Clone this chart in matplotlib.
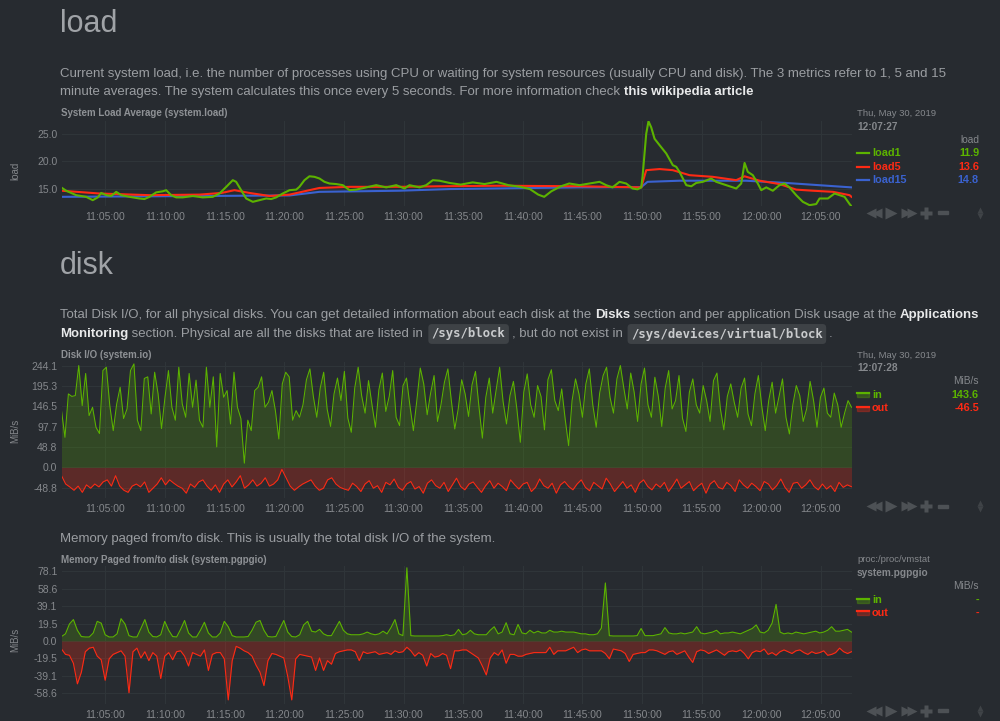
import numpy as np
import matplotlib
matplotlib.use("Agg")
import matplotlib.pyplot as plt
from matplotlib.transforms import Affine2D
from matplotlib.lines import Line2D
from matplotlib.patches import Rectangle

# ---- data (time = minutes after 11:00:00) ----
t_start, t_end = 1.31, 67.58
tick_minutes = [5, 10, 15, 20, 25, 30, 35, 40, 45, 50, 55, 60, 65]
tick_labels = ['11:05:00', '11:10:00', '11:15:00', '11:20:00', '11:25:00', '11:30:00',
               '11:35:00', '11:40:00', '11:45:00', '11:50:00', '11:55:00', '12:00:00', '12:05:00']

load1_t = [1.28, 1.70, 2.54, 3.38, 3.93, 4.35, 4.64, 5.06, 5.48, 5.90, 6.32, 7.01, 7.85, 8.27,
           8.69, 9.25, 9.81, 10.09, 10.51, 10.93, 11.48, 12.32, 13.16, 14.0, 14.56, 15.13, 15.68,
           15.96, 16.38, 16.80, 17.36, 17.92, 18.48, 18.90, 19.32, 19.87, 20.44, 21.0, 21.27, 21.69,
           22.11, 22.53, 22.95, 23.37, 23.79, 24.35, 24.91, 25.47, 26.03, 26.87, 27.71, 28.55,
           29.39, 30.08, 30.50, 31.34, 31.9, 32.46, 33.02, 33.86, 34.8, 35.8, 36.8, 37.8, 38.8,
           39.8, 40.6, 41.3, 41.8, 42.4, 43.2, 43.9, 44.77, 45.60, 46.44, 47.0, 47.53, 48.12,
           48.68, 49.21, 49.63, 49.94, 50.05, 50.36, 50.55, 50.78, 51.06, 51.48, 52.04, 52.59,
           52.88, 53.15, 53.72, 54.14, 54.55, 55.11, 55.81, 56.23, 57.07, 57.91, 58.33, 58.61,
           58.88, 59.30, 59.72, 60.01, 60.43, 60.98, 61.54, 61.96, 62.38, 62.94, 63.50, 64.06,
           64.62, 64.90, 65.60, 66.16, 66.58, 67.0, 67.42, 67.58]
load1_v = [15.3, 14.7, 13.9, 13.6, 13.0, 13.5, 14.3, 13.9, 13.75, 14.5, 13.9, 13.6, 13.3, 13.2,
           13.6, 14.4, 14.6, 14.8, 13.9, 13.5, 13.5, 13.75, 13.5, 13.6, 14.2, 15.4, 16.6,
           16.3, 14.8, 13.3, 12.7, 13.0, 13.3, 13.2, 13.5, 14.2, 14.8, 14.9, 15.4, 16.6,
           17.3, 17.2, 16.9, 16.3, 16.0, 15.9, 15.7, 14.8, 14.9, 15.3, 15.7, 15.3,
           15.7, 15.1, 15.7, 15.3, 15.7, 16.6, 16.5, 16.1, 15.8, 16.2, 15.9, 16.3, 15.7,
           15.4, 15.0, 14.0, 13.6, 14.6, 15.5, 16.0, 15.7, 16.0, 16.3, 15.7, 15.3, 16.3,
           16.0, 15.1, 14.95, 15.3, 17.2, 24.95, 27.2, 26.1, 24.05, 22.9, 21.4, 19.3,
           19.0, 18.1, 15.7, 15.5, 16.1, 16.3, 16.9, 16.3, 15.7, 15.1, 16.0, 19.7,
           18.1, 17.5, 16.0, 14.8, 15.3, 14.7, 15.7, 16.0, 15.3, 13.9, 12.7, 12.1,
           12.3, 13.3, 13.3, 14.2, 13.9, 13.6, 12.3, 11.9]

load5_t = [1.31, 4.5, 8.69, 12.89, 14.73, 15.82, 17.08, 18.76, 20.44, 21.69, 22.95, 25.47, 29.66,
           33.02, 38.05, 44.77, 49.94, 50.36, 51.48, 52.59, 53.99, 55.95, 57.91, 58.61, 59.87,
           61.54, 62.94, 64.34, 66.02, 67.42, 67.58]
load5_v = [14.7, 14.2, 13.9, 14.0, 14.3, 14.8, 14.3, 13.75, 14.0, 14.6, 15.2, 15.4, 15.4,
           15.5, 15.6, 15.5, 15.3, 18.4, 18.6, 18.4, 17.5, 17.2, 16.6, 17.3, 16.5,
           15.9, 14.9, 14.7, 14.5, 13.9, 13.6]

load15_t = [1.31, 12.89, 20.44, 22.95, 29.66, 33.86, 44.77, 49.94, 50.47, 53.15, 58.74, 62.1, 67.58]
load15_v = [13.6, 13.75, 13.85, 14.5, 14.7, 15.0, 15.3, 15.35, 16.3, 16.5, 16.5, 16.1, 15.3]

disk_in = [136, 72, 176, 170, 172, 244, 148, 225, 124, 144, 96, 81, 232, 240, 148, 88, 152, 192,
           117, 140, 232, 248, 113, 88, 213, 217, 128, 228, 176, 93, 168, 232, 144, 113, 240, 152,
           120, 225, 144, 209, 113, 96, 240, 144, 217, 49, 225, 168, 184, 104, 228, 144, 117, 10,
           113, 88, 184, 192, 217, 144, 156, 184, 136, 68, 200, 228, 217, 113, 136, 120,
           150, 210, 236, 170, 120, 190, 228, 140, 98, 176, 214, 160, 230, 118, 84, 190, 240, 172,
           130, 208, 150, 96, 186, 226, 134, 170, 232, 120, 100, 196, 214, 148, 88, 160, 238, 200,
           126, 178, 220, 110, 150, 204, 236, 160, 92, 140, 210, 176, 122, 198, 230, 146, 70, 168,
           214, 130, 186, 240, 158, 104, 172, 206, 140, 60, 180, 224, 150, 120, 196, 170, 90, 210,
           234, 160, 136, 188, 116, 52, 160, 212, 176, 120, 200, 236, 150, 96, 178, 220, 240, 168,
           130, 212, 244, 190, 140, 226, 180, 110, 200, 238, 150, 120, 216, 170, 98, 190, 232, 140,
           160, 220, 118, 86, 180, 212, 150, 130, 196, 160, 110, 208, 226, 140, 90, 170, 200, 156,
           120, 190, 214, 128, 100, 176, 220, 146, 88, 160, 204, 130, 170, 212, 120, 80, 150, 196,
           172, 110, 140, 206, 160, 96, 168, 190, 130, 120, 178, 150, 96, 130, 160, 144]
disk_out = [-20, -40, -47, -55, -45, -60, -42, -50, -40, -47, -35, -30, -45, -20, -45, -55, -60,
            -45, -40, -47, -35, -60, -50, -40, -25, -42, -30, -38, -45, -50, -62, -40, -48, -35,
            -30, -45, -55, -42, -60, -40, -30, -47, -35, -20, -50, -42, -30, -45, -38, -25, -45,
            -40, -30, -5, -25, -45, -55, -47, -40, -35, -30, -45, -55, -50, -30, -25, -40, -48,
            -52, -55,
            -38, -46, -58, -40, -32, -50, -44, -60, -36, -42, -28, -48, -55, -40, -34, -52, -46,
            -62, -38, -30, -44, -50, -36, -58, -42, -26, -46, -54, -40, -35, -48, -60, -44, -32,
            -50, -38, -46, -56, -30, -42, -52, -40, -36, -58, -48, -28, -44, -50, -38, -62, -42,
            -34, -46, -54, -40, -30, -48, -56, -36, -44, -52, -26, -40, -58, -46, -34, -50, -42,
            -60, -38, -30, -46, -54, -40, -48, -36, -58, -44, -28, -50, -42, -34, -56, -46, -38,
            -62, -40, -32, -48, -52, -36, -44, -58, -30, -42, -50, -38, -46, -56, -34, -40, -54,
            -44, -28, -48, -60, -38, -36, -50, -42, -30, -46, -54, -40, -52, -44, -58, -36, -48,
            -42, -46.5]

pg_in = [5, 8, 19, 24, 12, 5, 4.5, 4.5, 9, 22,
         20, 7, 4.5, 4.5, 8, 25, 19, 6, 4.5, 4.5,
         14, 24, 10, 5, 4.5, 7, 22, 12, 5, 4.5,
         13, 23, 9, 4.5, 4.5, 12, 21, 9, 4.5, 4.5,
         9, 22, 16, 6, 4.5, 4.5, 4.5, 5, 12, 21,
         23, 12, 5, 4.5, 5, 14, 23, 10, 5, 4.5,
         7, 18, 22, 11, 10, 13, 8, 6, 6, 14,
         22, 12, 8, 7, 7, 7, 8, 10, 8, 7,
         8, 11, 8, 15, 24, 8, 6, 82, 6, 5.6,
         5.6, 5.6, 5.6, 5.6, 5.6, 5.6, 6, 7, 6, 7,
         13, 7, 8, 12, 8, 7, 7, 7, 12, 16,
         8, 10, 20.5, 8, 7, 18.6, 9, 8, 12, 9,
         11, 9, 9, 12, 10, 10, 11, 10, 10, 10,
         9, 8, 8, 7, 7, 8, 14.5, 65, 6, 5.6,
         5.6, 5.6, 5.6, 5.6, 5.6, 6, 14, 6, 6, 6,
         7, 8, 15, 9, 8, 8, 9, 8, 9, 10,
         16, 9, 8, 9, 10, 12, 8, 9, 9, 10,
         9, 8, 10, 12, 14, 18, 10, 9, 12, 20,
         41, 10, 8, 9, 8, 10, 9, 8, 9, 10,
         11, 9, 10, 12, 16, 11, 11, 12, 13, 10]
pg_out = [-9, -15, -16, -25, -48, -35, -12, -8, -7, -17,
          -21, -44, -20, -15, -13, -11, -17, -58, -12, -8,
          -19, -12, -22, -13, -17, -42, -17, -13, -21, -12,
          -11, -17, -28, -13, -15, -17, -10, -33, -15, -13,
          -13, -20, -66, -22, -6, -8, -11, -13, -17, -27,
          -35, -50, -22, -14, -15, -17, -19, -40, -66, -20,
          -15, -16, -17, -18, -33, -19, -33, -22, -26, -14,
          -12, -11, -10, -10, -12, -22, -12, -14, -13, -12,
          -15, -14, -13, -15, -11, -13, -12, -7, -11, -17,
          -13, -16, -28, -14, -18, -17, -14, -16, -31, -11,
          -11, -10, -10, -13, -16, -19, -28, -38, -19, -13,
          -16, -10, -25, -15, -15, -17, -17, -15, -14, -13,
          -13, -13, -13, -7, -15, -11, -11, -11, -9, -7,
          -13, -10, -9, -11, -11, -11, -11, -14, -20, -9,
          -10, -11, -14, -23, -15, -14, -13, -13, -10, -10,
          -11, -13, -15, -12, -11, -15, -13, -11, -18, -24,
          -12, -10, -11, -14, -12, -10, -13, -16, -12, -11,
          -12, -10, -14, -20, -13, -11, -12, -9, -15, -13,
          -16, -12, -10, -12, -14, -11, -10, -13, -15, -12,
          -14, -13, -11, -16, -15, -13, -8, -12, -14, -12]

load_ticks = [15.0, 20.0, 25.0]
disk_ticks = [-48.8, 0.0, 48.8, 97.7, 146.5, 195.3, 244.1]
pg_ticks = [-58.6, -39.1, -19.5, 0.0, 19.5, 39.1, 58.6, 78.1]

# ---- styling ----
W, H = 1000, 721
BG = '#272b30'
TXT = '#9b9ea2'
HEAD = '#a0a3a7'
DIM = '#85888c'
GRID = '#30363a'
CTRL = '#4d5155'
GREEN = '#5cb300'
RED = '#fe2a14'
BLUE = '#3a62d0'
SANS = 'Liberation Sans'
MONO = 'DejaVu Sans Mono'
DESC = 9.52

plt.rcParams['font.family'] = SANS

fig = plt.figure(figsize=(W / 100, H / 100), dpi=100, facecolor=BG)
PX = Affine2D().scale(1 / W, -1 / H).translate(0, 1) + fig.transFigure
renderer = fig.canvas.get_renderer()


def text_width(s, **kw):
    a = fig.text(0, 0, s + '|', **kw)
    b = fig.text(0, 0, '|', **kw)
    w = a.get_window_extent(renderer).width - b.get_window_extent(renderer).width
    a.remove()
    b.remove()
    return w


def put(x, y, s, **kw):
    kw.setdefault('color', TXT)
    kw.setdefault('va', 'center')
    return fig.text(x, y, s, transform=PX, **kw)


def rich_line(x, y, parts, size=DESC):
    for s, kind in parts:
        if kind == 'code':
            kw = dict(family=MONO, size=size - 0.7, weight='bold', color='#c9cbcd')
            w = text_width(s, **kw)
            put(x + 5, y, s, bbox=dict(boxstyle='round,pad=0.28,rounding_size=0.3',
                                       fc='#3e4246', ec='none'), **kw)
            x += w + 11
        else:
            kw = dict(size=size, color='#e8e9ea' if kind == 'b' else TXT,
                      weight='bold' if kind == 'b' else 'normal')
            put(x, y, s, **kw)
            x += text_width(s, **kw)


def make_axes(top, bottom, ylim, yticks):
    ax = fig.add_axes([61.5 / W, 1 - bottom / H, 790 / W, (bottom - top) / H])
    ax.set_facecolor(BG)
    for sp in ax.spines.values():
        sp.set_visible(False)
    ax.set_axisbelow(True)
    ax.grid(True, color=GRID, lw=0.7)
    ax.tick_params(length=0, colors=DIM, labelsize=7.5, pad=4.5)
    ax.tick_params(axis='y', pad=3)
    ax.set_xlim(t_start, t_end)
    ax.set_xticks(tick_minutes)
    ax.set_xticklabels(tick_labels)
    ax.set_ylim(*ylim)
    ax.set_yticks(yticks)
    ax.set_yticklabels([f'{v:.1f}' for v in yticks])
    return ax


def controls(y):
    for x in (871, 877):
        fig.add_artist(Line2D([x], [y], marker='<', ms=6.5, color=CTRL, mec='none', transform=PX))
    fig.add_artist(Line2D([891], [y], marker='>', ms=9, color=CTRL, mec='none', transform=PX))
    for x in (906, 912):
        fig.add_artist(Line2D([x], [y], marker='>', ms=6.5, color=CTRL, mec='none', transform=PX))
    fig.add_artist(Line2D([926], [y], marker='P', ms=8, color=CTRL, mec='none', transform=PX))
    fig.add_artist(Rectangle((938, y - 1.5), 10, 3, color=CTRL, transform=PX))
    fig.add_artist(Line2D([980], [y - 3], marker='^', ms=4.5, color='#3f4347', mec='none', transform=PX))
    fig.add_artist(Line2D([980], [y + 3], marker='v', ms=4.5, color='#3f4347', mec='none', transform=PX))


def legend_row(y, name, value, color, area=False):
    if area:
        fig.add_artist(Rectangle((857, y - 1.5), 12, 4, color=color, alpha=0.3, transform=PX))
    fig.add_artist(Line2D([857, 869], [y - 1.5 if area else y] * 2, color=color, lw=1.6, transform=PX))
    put(872, y, name, color=color, size=7.8, weight='bold')
    put(979, y, value, color=color, size=7.8, weight='bold', ha='right')


# ---- load section ----
put(60, 31.5, 'load', size=22, color=HEAD, va='baseline')
rich_line(60, 73.5, [('Current system load, i.e. the number of processes using CPU or waiting for '
                      'system resources (usually CPU and disk). The 3 metrics refer to 1, 5 and 15', 'n')])
rich_line(60, 92.5, [('minute averages. The system calculates this once every 5 seconds. '
                      'For more information check ', 'n'), ('this wikipedia article', 'b')])
put(61, 113.5, 'System Load Average (system.load)', size=7, weight='bold', color='#8e9195')

ax1 = make_axes(121, 206, (11.95, 27.25), load_ticks)
ax1.plot(load15_t, load15_v, color=BLUE, lw=1.5)
ax1.plot(load5_t, load5_v, color=RED, lw=1.5)
ax1.plot(load1_t, load1_v, color=GREEN, lw=1.5)
put(15, 171, 'load', size=7, color=DIM, rotation=90, ha='center')

put(857, 114, 'Thu, May 30, 2019', size=6.8, color=DIM)
put(857, 126.5, '12:07:27', size=7.3, color=DIM, weight='bold')
put(979, 140, 'load', size=7.3, color=DIM, ha='right')
legend_row(153.3, 'load1', '11.9', GREEN)
legend_row(166.7, 'load5', '13.6', RED)
legend_row(180, 'load15', '14.8', BLUE)
controls(212.5)

# ---- disk section ----
put(60, 273.5, 'disk', size=22, color=HEAD, va='baseline')
rich_line(60, 315, [('Total Disk I/O, for all physical disks. You can get detailed information about '
                     'each disk at the ', 'n'), ('Disks', 'b'),
                    (' section and per application Disk usage at the ', 'n'), ('Applications', 'b')])
rich_line(60, 334, [('Monitoring', 'b'), (' section. Physical are all the disks that are listed in ', 'n'),
                    ('/sys/block', 'code'), (', but do not exist in ', 'n'),
                    ('/sys/devices/virtual/block', 'code'), ('.', 'n')])
put(61, 355, 'Disk I/O (system.io)', size=7, weight='bold', color='#8e9195')

ax2 = make_axes(362, 498, (-73.5, 252.5), disk_ticks)
td = np.linspace(t_start, t_end, len(disk_in))
to = np.linspace(t_start, t_end, len(disk_out))
ax2.fill_between(td, 0, disk_in, color=GREEN, alpha=0.22, lw=0)
ax2.fill_between(to, disk_out, 0, color=RED, alpha=0.25, lw=0)
ax2.plot(td, disk_in, color=GREEN, lw=0.75)
ax2.plot(to, disk_out, color=RED, lw=0.75)
put(15, 431, 'MiB/s', size=7, color=DIM, rotation=90, ha='center')

put(857, 355, 'Thu, May 30, 2019', size=6.8, color=DIM)
put(857, 368, '12:07:28', size=7.3, color=DIM, weight='bold')
put(979, 381.5, 'MiB/s', size=7.3, color=DIM, ha='right')
legend_row(394.5, 'in', '143.6', GREEN, area=True)
legend_row(408.3, 'out', '-46.5', RED, area=True)
controls(506)

# ---- memory paged ----
rich_line(60, 539, [('Memory paged from/to disk. This is usually the total disk I/O of the system.', 'n')])
put(61, 560, 'Memory Paged from/to disk (system.pgpgio)', size=7, weight='bold', color='#8e9195')

ax3 = make_axes(566, 703.5, (-70, 84), pg_ticks)
tp = np.linspace(t_start, t_end, len(pg_in))
ax3.fill_between(tp, 0, pg_in, color=GREEN, alpha=0.22, lw=0)
ax3.fill_between(tp, pg_out, 0, color=RED, alpha=0.25, lw=0)
ax3.plot(tp, pg_in, color=GREEN, lw=0.8)
ax3.plot(tp, pg_out, color=RED, lw=0.8)
put(15, 640, 'MiB/s', size=7, color=DIM, rotation=90, ha='center')

put(857, 560, 'proc:/proc/vmstat', size=6.8, color=DIM)
put(857, 573.3, 'system.pgpgio', size=7.3, color=DIM, weight='bold')
put(979, 586, 'MiB/s', size=7.3, color=DIM, ha='right')
legend_row(600, 'in', '-', GREEN, area=True)
legend_row(612.7, 'out', '-', RED, area=True)
controls(710.5)

fig.savefig('out.png', dpi=100, facecolor=BG)
